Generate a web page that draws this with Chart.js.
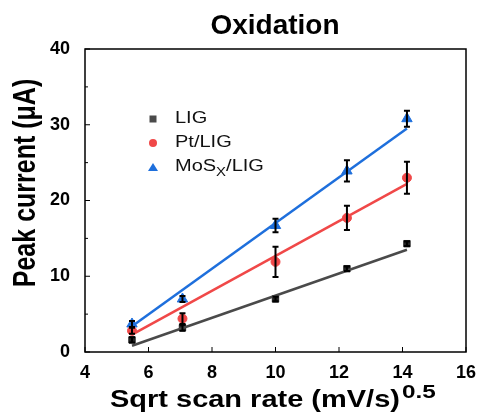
<!DOCTYPE html>
<html>
<head>
<meta charset="utf-8">
<script src="https://cdn.jsdelivr.net/npm/chart.js@4.4.0/dist/chart.umd.min.js"></script>
<style>
  html, body { margin: 0; padding: 0; background: #fff; }
</style>
</head>
<body>
<canvas id="grafico" width="480" height="418"></canvas>
<script>
// dados
const taxas = [5.48, 7.07, 10.0, 12.25, 14.14];
const nomes = ['LIG', 'Pt/LIG', 'MoSx/LIG'];
const lig = [1.6, 3.2, 7.0, 11.0, 14.3];
const ligErro = [0.35, 0.4, 0.3, 0.3, 0.3];
const pt = [2.8, 4.4, 11.9, 17.7, 23.0];
const ptErro = [0.4, 0.7, 2.0, 1.6, 2.1];
const mos = [3.7, 7.0, 16.7, 23.9, 30.8];
const mosErro = [0.4, 0.4, 0.9, 1.4, 1.05];
// retas de ajuste (extremos)
const ajusteX = [5.48, 14.14];
const ajusteLig = [0.83, 13.5];
const ajustePt = [2.3, 22.2];
const ajusteMos = [3.4, 29.5];
const ticksX = [4, 6, 8, 10, 12, 14, 16];
const ticksY = [0, 10, 20, 30, 40];

const cores = ['#4a4a4a', '#f04848', '#1e6fdc'];
const erros = [ligErro, ptErro, mosErro];
const fonte = 'Arial, "Liberation Sans", sans-serif';

function pontos(xs, ys) {
  return xs.map((x, i) => ({ x: x, y: ys[i] }));
}

// escreve texto com escala horizontal (sx) e vertical (sy); devolve largura final
function texto(ctx, t, x, y, font, sx, sy) {
  ctx.save();
  ctx.font = font;
  ctx.translate(x, y);
  ctx.scale(sx, sy);
  ctx.fillText(t, 0, 0);
  const w = ctx.measureText(t).width * sx;
  ctx.restore();
  return w;
}

// plugin para barras de erro, legenda, moldura e títulos
const extras = {
  id: 'extras',
  afterDatasetsDraw(chart) {
    const ctx = chart.ctx;
    const x = chart.scales.x, y = chart.scales.y;
    const a = chart.chartArea;
    ctx.save();

    // barras de erro
    ctx.strokeStyle = '#000';
    ctx.lineWidth = 2;
    [lig, pt, mos].forEach((serie, s) => {
      serie.forEach((v, i) => {
        const px = x.getPixelForValue(taxas[i]);
        const top = y.getPixelForValue(v + erros[s][i]);
        const bot = y.getPixelForValue(v - erros[s][i]);
        ctx.beginPath();
        ctx.moveTo(px, top); ctx.lineTo(px, bot);
        ctx.moveTo(px - 3, top); ctx.lineTo(px + 3, top);
        ctx.moveTo(px - 3, bot); ctx.lineTo(px + 3, bot);
        ctx.stroke();
      });
    });

    // moldura
    ctx.lineWidth = 1.5;
    ctx.strokeStyle = '#000';
    ctx.strokeRect(a.left, a.top, a.right - a.left, a.bottom - a.top);

    // marcas dos eixos para dentro
    ctx.lineWidth = 1;
    ctx.beginPath();
    ticksX.forEach(t => {
      const px = x.getPixelForValue(t);
      ctx.moveTo(px, a.bottom); ctx.lineTo(px, a.bottom - 5);
    });
    for (let t = 0; t <= 40; t += 5) {
      const py = y.getPixelForValue(t);
      const len = t % 10 === 0 ? 5 : 3;
      ctx.moveTo(a.left, py); ctx.lineTo(a.left + len, py);
    }
    ctx.stroke();

    // legenda
    const lx = 153, ly = [119, 143, 167], base = [123, 147, 171];
    ctx.textBaseline = 'alphabetic';
    ctx.textAlign = 'left';
    ctx.fillStyle = cores[0];
    ctx.fillRect(lx - 3.5, ly[0] - 3.5, 7, 7);
    ctx.fillStyle = cores[1];
    ctx.beginPath(); ctx.arc(lx, ly[1], 4, 0, Math.PI * 2); ctx.fill();
    ctx.fillStyle = cores[2];
    ctx.beginPath();
    ctx.moveTo(lx, ly[2] - 4); ctx.lineTo(lx + 5, ly[2] + 4); ctx.lineTo(lx - 5, ly[2] + 4);
    ctx.closePath(); ctx.fill();
    ctx.fillStyle = '#111';
    const fLeg = '16px ' + fonte;
    texto(ctx, nomes[0], 175, base[0], fLeg, 1.25, 1);
    texto(ctx, nomes[1], 175, base[1], fLeg, 1.25, 1);
    let w = texto(ctx, 'MoS', 175, base[2], fLeg, 1.25, 1);
    const wx = texto(ctx, 'X', 175 + w, base[2] + 5, '13px ' + fonte, 1.15, 1);
    texto(ctx, '/LIG', 175 + w + wx, base[2], fLeg, 1.25, 1);

    // título
    ctx.fillStyle = '#000';
    ctx.textAlign = 'center';
    texto(ctx, 'Oxidation', 275, 34, 'bold 28px ' + fonte, 1, 1);

    // título do eixo x com expoente
    ctx.textAlign = 'left';
    w = texto(ctx, 'Sqrt scan rate (mV/s)', 110, 407, 'bold 23px ' + fonte, 1.26, 1);
    texto(ctx, '0.5', 110 + w + 2, 398, 'bold 18px ' + fonte, 1.35, 1);

    // título do eixo y
    ctx.save();
    ctx.translate(35, 183);
    ctx.rotate(-Math.PI / 2);
    ctx.textAlign = 'center';
    texto(ctx, 'Peak current (\u03bcA)', 0, 0, 'bold 25px ' + fonte, 1, 1.23);
    ctx.restore();

    ctx.restore();
  }
};

const ctx = document.getElementById('grafico').getContext('2d');
new Chart(ctx, {
  type: 'scatter',
  data: {
    datasets: [
      { label: 'ajuste LIG', data: pontos(ajusteX, ajusteLig), showLine: true, borderColor: cores[0], borderWidth: 2.5, pointRadius: 0 },
      { label: 'ajuste Pt', data: pontos(ajusteX, ajustePt), showLine: true, borderColor: cores[1], borderWidth: 2.5, pointRadius: 0 },
      { label: 'ajuste Mo', data: pontos(ajusteX, ajusteMos), showLine: true, borderColor: cores[2], borderWidth: 2.5, pointRadius: 0 },
      { label: nomes[0], data: pontos(taxas, lig), pointStyle: 'rect', pointRadius: 4.5, backgroundColor: '#222', borderColor: '#222' },
      { label: nomes[1], data: pontos(taxas, pt), pointStyle: 'circle', pointRadius: 4.5, backgroundColor: cores[1], borderColor: cores[1] },
      { label: nomes[2], data: pontos(taxas, mos), pointStyle: 'triangle', pointRadius: 6, backgroundColor: cores[2], borderColor: cores[2] }
    ]
  },
  options: {
    responsive: false,
    animation: false,
    layout: { padding: { left: 0, top: 49, right: 14, bottom: 0 } },
    plugins: { legend: { display: false }, tooltip: { enabled: false } },
    scales: {
      x: {
        min: 4, max: 16,
        afterBuildTicks: s => { s.ticks = ticksX.map(v => ({ value: v })); },
        grid: { display: false },
        border: { display: false },
        ticks: { color: '#000', font: { family: 'Arial', size: 18, weight: 'bold' }, padding: 2 },
        afterFit: s => { s.height = 66; }
      },
      y: {
        min: 0, max: 40,
        afterBuildTicks: s => { s.ticks = ticksY.map(v => ({ value: v })); },
        grid: { display: false },
        border: { display: false },
        ticks: { color: '#000', font: { family: 'Arial', size: 18, weight: 'bold' }, padding: 7 },
        afterFit: s => { s.width = 85; }
      }
    }
  },
  plugins: [extras]
});
</script>
</body>
</html>
